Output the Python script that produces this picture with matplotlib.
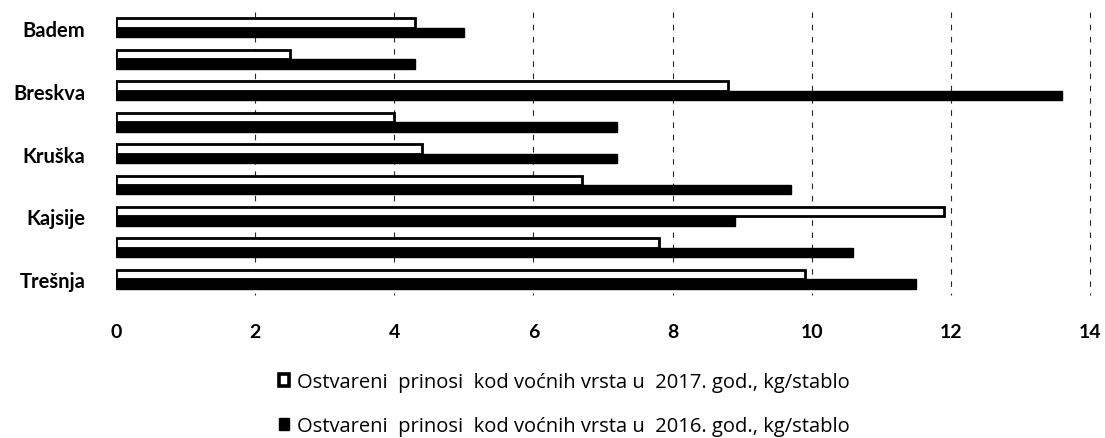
import matplotlib

matplotlib.use("Agg")
import matplotlib.pyplot as plt
import numpy as np
from matplotlib.patches import Patch

plt.rcParams["font.family"] = ["Lato", "DejaVu Sans"]

# rows top to bottom; only every other category label is shown in the source chart
categories = ["Badem", "", "Breskva", "", "Kruška", "", "Kajsije", "", "Trešnja"]
y2017 = [4.3, 2.5, 8.8, 4.0, 4.4, 6.7, 11.9, 7.8, 9.9]
y2016 = [5.0, 4.3, 13.6, 7.2, 7.2, 9.7, 8.9, 10.6, 11.5]
xticks = [0, 2, 4, 6, 8, 10, 12, 14]
lab2017 = "Ostvareni  prinosi  kod voćnih vrsta u  2017. god., kg/stablo"
lab2016 = "Ostvareni  prinosi  kod voćnih vrsta u  2016. god., kg/stablo"

fig = plt.figure(figsize=(11.05, 4.39), dpi=100)
ax = fig.add_axes([0.105, 0.3257, 0.8814, 0.6446])

pos = np.arange(len(categories))
h = 0.3
ax.barh(pos - h / 2, y2017, height=h, color="white", edgecolor="black", lw=2.0)
ax.barh(pos + h / 2, y2016, height=h, color="black", edgecolor="black", lw=1.0)

ax.set_ylim(len(categories) - 0.5, -0.5)
ax.set_xlim(0, 14)
ax.set_xticks(xticks)
ax.set_xticklabels([str(t) for t in xticks], fontsize=14, fontweight="bold")
ax.set_yticks(pos)
ax.set_yticklabels(categories, fontsize=14.5, fontweight="bold")
ax.tick_params(axis="x", length=0, pad=20)
ax.tick_params(axis="y", length=0, pad=22)

# dashed vertical gridlines, including the one at the right edge
ax.vlines(xticks[1:], -0.5, len(categories) - 0.5, colors="0.15", lw=0.8,
          linestyles=[(0, (5, 6))], zorder=0, clip_on=False)
for s in ax.spines.values():
    s.set_visible(False)

handles = [
    Patch(facecolor="white", edgecolor="black", lw=2.6),
    Patch(facecolor="black", edgecolor="black"),
]
fig.legend(
    handles,
    [lab2017, lab2016],
    loc="center",
    bbox_to_anchor=(0.511, 0.077),
    frameon=False,
    prop={"family": ["Open Sans", "DejaVu Sans"], "size": 14.5},
    handlelength=0.5,
    handleheight=0.5,
    handletextpad=0.4,
    labelspacing=1.2,
)

fig.savefig("out.png", dpi=100)
